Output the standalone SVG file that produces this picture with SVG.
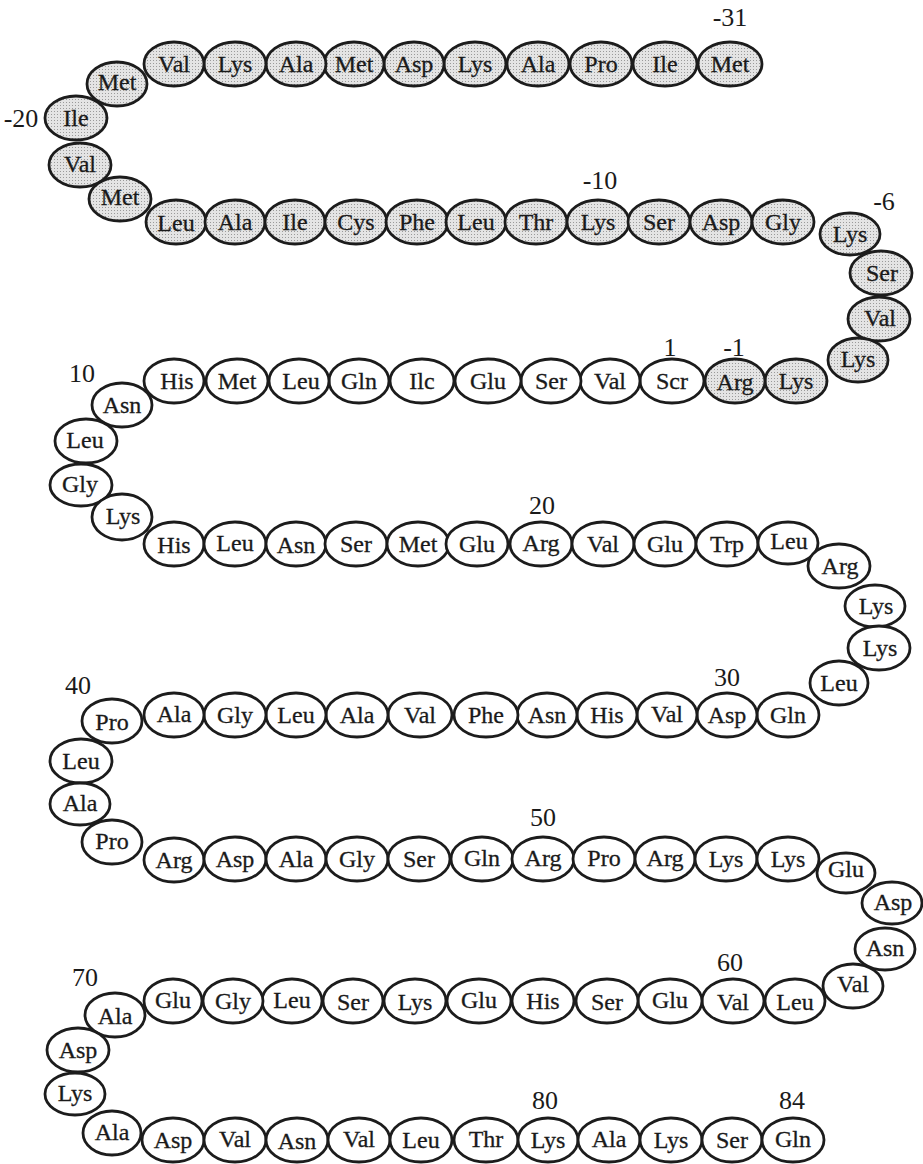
<svg xmlns="http://www.w3.org/2000/svg" width="923" height="1164" viewBox="0 0 923 1164">
<defs>
<pattern id="stip" width="3" height="3" patternUnits="userSpaceOnUse">
<rect width="3" height="3" fill="#e4e4e4"/>
<rect x="0" y="0" width="1" height="1" fill="#9a9a9a"/>
</pattern>
</defs>
<style>
.aa ellipse{fill:#ffffff;stroke:#1c1c1c;stroke-width:2.8}
.aa.sig ellipse{fill:url(#stip)}
.aa text{font-family:"Liberation Serif","Times New Roman",serif;font-size:24px;fill:#1a1a1a;stroke:#1a1a1a;stroke-width:0.3;text-anchor:middle;dominant-baseline:central}
.num{font-family:"Liberation Serif","Times New Roman",serif;font-size:26px;fill:#1a1a1a;text-anchor:middle;dominant-baseline:central}
</style>
<rect width="923" height="1164" fill="#ffffff"/>
<g id="connectors"></g>
<g id="residues">
<!-- Row 1 (signal) -->
<g id="n-31" class="aa sig"><ellipse cx="730" cy="64" rx="32" ry="22"/><text x="730" y="64">Met</text></g>
<g id="n-30" class="aa sig"><ellipse cx="665" cy="64" rx="32" ry="22"/><text x="665" y="64">Ile</text></g>
<g id="n-29" class="aa sig"><ellipse cx="601" cy="64" rx="31" ry="22"/><text x="601" y="64">Pro</text></g>
<g id="n-28" class="aa sig"><ellipse cx="538" cy="64" rx="31" ry="22"/><text x="538" y="64">Ala</text></g>
<g id="n-27" class="aa sig"><ellipse cx="475" cy="64" rx="31" ry="22"/><text x="475" y="64">Lys</text></g>
<g id="n-26" class="aa sig"><ellipse cx="414" cy="64" rx="30" ry="22"/><text x="414" y="64">Asp</text></g>
<g id="n-25" class="aa sig"><ellipse cx="354" cy="64" rx="30" ry="22"/><text x="354" y="64">Met</text></g>
<g id="n-24" class="aa sig"><ellipse cx="296" cy="64" rx="30" ry="22"/><text x="296" y="64">Ala</text></g>
<g id="n-23" class="aa sig"><ellipse cx="235" cy="64" rx="31" ry="22"/><text x="235" y="64">Lys</text></g>
<g id="n-22" class="aa sig"><ellipse cx="174" cy="64" rx="30" ry="22"/><text x="174" y="64">Val</text></g>
<g id="n-21" class="aa sig"><ellipse cx="117" cy="84" rx="30" ry="22"/><text x="117" y="82">Met</text></g>
<g id="n-20" class="aa sig"><ellipse cx="76" cy="118" rx="31" ry="22"/><text x="76" y="118">Ile</text></g>
<g id="n-19" class="aa sig"><ellipse cx="80" cy="165" rx="31" ry="22"/><text x="80" y="164">Val</text></g>
<g id="n-18" class="aa sig"><ellipse cx="120" cy="199" rx="31" ry="22"/><text x="120" y="197">Met</text></g>
<!-- Row 2 (signal) -->
<g id="n-17" class="aa sig"><ellipse cx="176" cy="222" rx="30" ry="22"/><text x="176" y="223">Leu</text></g>
<g id="n-16" class="aa sig"><ellipse cx="235" cy="222" rx="30" ry="22"/><text x="235" y="222">Ala</text></g>
<g id="n-15" class="aa sig"><ellipse cx="295" cy="222" rx="30" ry="22"/><text x="295" y="222">Ile</text></g>
<g id="n-14" class="aa sig"><ellipse cx="356" cy="222" rx="31" ry="22"/><text x="356" y="222">Cys</text></g>
<g id="n-13" class="aa sig"><ellipse cx="417" cy="222" rx="31" ry="22"/><text x="417" y="222">Phe</text></g>
<g id="n-12" class="aa sig"><ellipse cx="476" cy="222" rx="30" ry="22"/><text x="476" y="222">Leu</text></g>
<g id="n-11" class="aa sig"><ellipse cx="536" cy="222" rx="31" ry="22"/><text x="536" y="222">Thr</text></g>
<g id="n-10" class="aa sig"><ellipse cx="598" cy="222" rx="31" ry="22"/><text x="598" y="222">Lys</text></g>
<g id="n-9" class="aa sig"><ellipse cx="659" cy="222" rx="31" ry="22"/><text x="659" y="222">Ser</text></g>
<g id="n-8" class="aa sig"><ellipse cx="721" cy="222" rx="31" ry="22"/><text x="721" y="222">Asp</text></g>
<g id="n-7" class="aa sig"><ellipse cx="783" cy="222" rx="31" ry="22"/><text x="783" y="222">Gly</text></g>
<g id="n-6" class="aa sig"><ellipse cx="850" cy="234" rx="30" ry="21"/><text x="850" y="234">Lys</text></g>
<g id="n-5" class="aa sig"><ellipse cx="881" cy="273" rx="31" ry="22"/><text x="882" y="273">Ser</text></g>
<g id="n-4" class="aa sig"><ellipse cx="879" cy="319" rx="31" ry="22"/><text x="880" y="318">Val</text></g>
<g id="n-3" class="aa sig"><ellipse cx="858" cy="360" rx="30" ry="22"/><text x="858" y="359">Lys</text></g>
<!-- Row 3 -->
<g id="n-2" class="aa sig"><ellipse cx="796" cy="381" rx="31" ry="22"/><text x="796" y="381">Lys</text></g>
<g id="n-1" class="aa sig"><ellipse cx="735" cy="381" rx="30" ry="22"/><text x="735" y="382">Arg</text></g>
<g id="n1" class="aa"><ellipse cx="672" cy="381" rx="32" ry="22"/><text x="672" y="381">Scr</text></g>
<g id="n2" class="aa"><ellipse cx="610" cy="381" rx="30" ry="22"/><text x="610" y="381">Val</text></g>
<g id="n3" class="aa"><ellipse cx="551" cy="381" rx="30" ry="22"/><text x="551" y="381">Ser</text></g>
<g id="n4" class="aa"><ellipse cx="488" cy="381" rx="33" ry="22"/><text x="488" y="381">Glu</text></g>
<g id="n5" class="aa"><ellipse cx="422" cy="381" rx="32" ry="22"/><text x="422" y="381">Ilc</text></g>
<g id="n6" class="aa"><ellipse cx="359" cy="381" rx="30" ry="22"/><text x="359" y="381">Gln</text></g>
<g id="n7" class="aa"><ellipse cx="299" cy="381" rx="30" ry="22"/><text x="301" y="381">Leu</text></g>
<g id="n8" class="aa"><ellipse cx="237" cy="381" rx="31" ry="22"/><text x="237" y="381">Met</text></g>
<g id="n9" class="aa"><ellipse cx="174" cy="381" rx="30" ry="22"/><text x="177" y="381">His</text></g>
<g id="n10" class="aa"><ellipse cx="122" cy="405" rx="30" ry="22"/><text x="122" y="405">Asn</text></g>
<g id="n11" class="aa"><ellipse cx="86" cy="441" rx="31" ry="22"/><text x="85" y="440">Leu</text></g>
<g id="n12" class="aa"><ellipse cx="81" cy="485" rx="31" ry="21"/><text x="80" y="484">Gly</text></g>
<g id="n13" class="aa"><ellipse cx="122" cy="517" rx="30" ry="23"/><text x="123" y="516">Lys</text></g>
<!-- Row 4 -->
<g id="n14" class="aa"><ellipse cx="174" cy="544" rx="30" ry="22"/><text x="174" y="545">His</text></g>
<g id="n15" class="aa"><ellipse cx="235" cy="544" rx="31" ry="22"/><text x="235" y="543">Leu</text></g>
<g id="n16" class="aa"><ellipse cx="296" cy="544" rx="30" ry="22"/><text x="296" y="545">Asn</text></g>
<g id="n17" class="aa"><ellipse cx="356" cy="544" rx="31" ry="22"/><text x="356" y="544">Ser</text></g>
<g id="n18" class="aa"><ellipse cx="418" cy="544" rx="31" ry="22"/><text x="418" y="544">Met</text></g>
<g id="n19" class="aa"><ellipse cx="477" cy="544" rx="31" ry="22"/><text x="477" y="544">Glu</text></g>
<g id="n20" class="aa"><ellipse cx="541" cy="544" rx="31" ry="22"/><text x="541" y="543">Arg</text></g>
<g id="n21" class="aa"><ellipse cx="603" cy="544" rx="31" ry="22"/><text x="603" y="544">Val</text></g>
<g id="n22" class="aa"><ellipse cx="665" cy="544" rx="31" ry="22"/><text x="665" y="544">Glu</text></g>
<g id="n23" class="aa"><ellipse cx="727" cy="544" rx="31" ry="22"/><text x="727" y="544">Trp</text></g>
<g id="n24" class="aa"><ellipse cx="788" cy="543" rx="30" ry="21"/><text x="789" y="541">Leu</text></g>
<g id="n25" class="aa"><ellipse cx="839" cy="566" rx="31" ry="22"/><text x="840" y="566">Arg</text></g>
<g id="n26" class="aa"><ellipse cx="875" cy="606" rx="30" ry="21"/><text x="876" y="606">Lys</text></g>
<g id="n27" class="aa"><ellipse cx="879" cy="648" rx="31" ry="22"/><text x="880" y="648">Lys</text></g>
<g id="n28" class="aa"><ellipse cx="839" cy="683" rx="29" ry="22"/><text x="839" y="683">Leu</text></g>
<!-- Row 5 -->
<g id="n29" class="aa"><ellipse cx="788" cy="715" rx="31" ry="22"/><text x="788" y="715">Gln</text></g>
<g id="n30" class="aa"><ellipse cx="727" cy="715" rx="30" ry="22"/><text x="727" y="715">Asp</text></g>
<g id="n31" class="aa"><ellipse cx="667" cy="715" rx="30" ry="22"/><text x="667" y="714">Val</text></g>
<g id="n32" class="aa"><ellipse cx="607" cy="715" rx="30" ry="22"/><text x="607" y="715">His</text></g>
<g id="n33" class="aa"><ellipse cx="547" cy="715" rx="30" ry="22"/><text x="547" y="715">Asn</text></g>
<g id="n34" class="aa"><ellipse cx="486" cy="715" rx="32" ry="22"/><text x="486" y="715">Phe</text></g>
<g id="n35" class="aa"><ellipse cx="420" cy="715" rx="32" ry="22"/><text x="420" y="715">Val</text></g>
<g id="n36" class="aa"><ellipse cx="357" cy="715" rx="31" ry="22"/><text x="357" y="715">Ala</text></g>
<g id="n37" class="aa"><ellipse cx="296" cy="715" rx="30" ry="22"/><text x="296" y="715">Leu</text></g>
<g id="n38" class="aa"><ellipse cx="235" cy="715" rx="31" ry="22"/><text x="235" y="715">Gly</text></g>
<g id="n39" class="aa"><ellipse cx="174" cy="715" rx="30" ry="22"/><text x="174" y="714">Ala</text></g>
<g id="n40" class="aa"><ellipse cx="112" cy="721" rx="30" ry="22"/><text x="112" y="722">Pro</text></g>
<g id="n41" class="aa"><ellipse cx="81" cy="761" rx="31" ry="22"/><text x="81" y="761">Leu</text></g>
<g id="n42" class="aa"><ellipse cx="80" cy="804" rx="30" ry="21"/><text x="80" y="803">Ala</text></g>
<g id="n43" class="aa"><ellipse cx="112" cy="842" rx="30" ry="22"/><text x="112" y="841">Pro</text></g>
<!-- Row 6 -->
<g id="n44" class="aa"><ellipse cx="174" cy="860" rx="30" ry="22"/><text x="174" y="860">Arg</text></g>
<g id="n45" class="aa"><ellipse cx="235" cy="859" rx="31" ry="22"/><text x="235" y="859">Asp</text></g>
<g id="n46" class="aa"><ellipse cx="296" cy="859" rx="30" ry="22"/><text x="296" y="859">Ala</text></g>
<g id="n47" class="aa"><ellipse cx="357" cy="859" rx="31" ry="22"/><text x="357" y="859">Gly</text></g>
<g id="n48" class="aa"><ellipse cx="419" cy="859" rx="31" ry="22"/><text x="419" y="859">Ser</text></g>
<g id="n49" class="aa"><ellipse cx="482" cy="859" rx="31" ry="22"/><text x="482" y="858">Gln</text></g>
<g id="n50" class="aa"><ellipse cx="543" cy="859" rx="31" ry="22"/><text x="543" y="858">Arg</text></g>
<g id="n51" class="aa"><ellipse cx="604" cy="859" rx="31" ry="22"/><text x="604" y="858">Pro</text></g>
<g id="n52" class="aa"><ellipse cx="665" cy="859" rx="30" ry="22"/><text x="665" y="858">Arg</text></g>
<g id="n53" class="aa"><ellipse cx="726" cy="859" rx="31" ry="22"/><text x="726" y="859">Lys</text></g>
<g id="n54" class="aa"><ellipse cx="788" cy="859" rx="31" ry="22"/><text x="788" y="859">Lys</text></g>
<g id="n55" class="aa"><ellipse cx="846" cy="873" rx="29" ry="20"/><text x="846" y="869">Glu</text></g>
<g id="n56" class="aa"><ellipse cx="892" cy="903" rx="30" ry="21"/><text x="893" y="902">Asp</text></g>
<g id="n57" class="aa"><ellipse cx="885" cy="949" rx="30" ry="21"/><text x="885" y="948">Asn</text></g>
<g id="n58" class="aa"><ellipse cx="853" cy="986" rx="30" ry="22"/><text x="853" y="984">Val</text></g>
<!-- Row 7 -->
<g id="n59" class="aa"><ellipse cx="795" cy="1001" rx="30" ry="22"/><text x="795" y="1002">Leu</text></g>
<g id="n60" class="aa"><ellipse cx="733" cy="1001" rx="31" ry="22"/><text x="733" y="1002">Val</text></g>
<g id="n61" class="aa"><ellipse cx="670" cy="1001" rx="32" ry="22"/><text x="670" y="1000">Glu</text></g>
<g id="n62" class="aa"><ellipse cx="607" cy="1001" rx="31" ry="22"/><text x="607" y="1002">Ser</text></g>
<g id="n63" class="aa"><ellipse cx="543" cy="1001" rx="31" ry="22"/><text x="543" y="1001">His</text></g>
<g id="n64" class="aa"><ellipse cx="479" cy="1001" rx="32" ry="22"/><text x="479" y="1000">Glu</text></g>
<g id="n65" class="aa"><ellipse cx="415" cy="1001" rx="31" ry="22"/><text x="415" y="1002">Lys</text></g>
<g id="n66" class="aa"><ellipse cx="353" cy="1001" rx="30" ry="22"/><text x="353" y="1002">Ser</text></g>
<g id="n67" class="aa"><ellipse cx="292" cy="1001" rx="30" ry="22"/><text x="292" y="1000">Leu</text></g>
<g id="n68" class="aa"><ellipse cx="233" cy="1001" rx="30" ry="22"/><text x="233" y="1001">Gly</text></g>
<g id="n69" class="aa"><ellipse cx="173" cy="1001" rx="29" ry="22"/><text x="173" y="1000">Glu</text></g>
<g id="n70" class="aa"><ellipse cx="115" cy="1015" rx="30" ry="22"/><text x="115" y="1016">Ala</text></g>
<g id="n71" class="aa"><ellipse cx="78" cy="1050" rx="31" ry="22"/><text x="78" y="1050">Asp</text></g>
<g id="n72" class="aa"><ellipse cx="75" cy="1094" rx="30" ry="21"/><text x="75" y="1093">Lys</text></g>
<!-- Row 8 -->
<g id="n73" class="aa"><ellipse cx="112" cy="1133" rx="29" ry="22"/><text x="112" y="1132">Ala</text></g>
<g id="n74" class="aa"><ellipse cx="173" cy="1140" rx="31" ry="22"/><text x="173" y="1140">Asp</text></g>
<g id="n75" class="aa"><ellipse cx="235" cy="1140" rx="31" ry="22"/><text x="235" y="1139">Val</text></g>
<g id="n76" class="aa"><ellipse cx="297" cy="1140" rx="31" ry="22"/><text x="297" y="1141">Asn</text></g>
<g id="n77" class="aa"><ellipse cx="359" cy="1140" rx="31" ry="22"/><text x="359" y="1139">Val</text></g>
<g id="n78" class="aa"><ellipse cx="421" cy="1140" rx="31" ry="22"/><text x="421" y="1140">Leu</text></g>
<g id="n79" class="aa"><ellipse cx="486" cy="1140" rx="32" ry="22"/><text x="486" y="1139">Thr</text></g>
<g id="n80" class="aa"><ellipse cx="548" cy="1140" rx="30" ry="22"/><text x="548" y="1140">Lys</text></g>
<g id="n81" class="aa"><ellipse cx="609" cy="1140" rx="31" ry="22"/><text x="609" y="1139">Ala</text></g>
<g id="n82" class="aa"><ellipse cx="671" cy="1140" rx="31" ry="22"/><text x="671" y="1140">Lys</text></g>
<g id="n83" class="aa"><ellipse cx="732" cy="1140" rx="30" ry="22"/><text x="732" y="1140">Ser</text></g>
<g id="n84" class="aa"><ellipse cx="793" cy="1140" rx="31" ry="22"/><text x="793" y="1139">Gln</text></g>
</g>
<g id="numbers">
<text class="num" x="730" y="17">-31</text>
<text class="num" x="21" y="118">-20</text>
<text class="num" x="600" y="180">-10</text>
<text class="num" x="884" y="201">-6</text>
<text class="num" x="670" y="347">1</text>
<text class="num" x="734" y="347">-1</text>
<text class="num" x="82" y="373">10</text>
<text class="num" x="542" y="505">20</text>
<text class="num" x="727" y="677">30</text>
<text class="num" x="78" y="685">40</text>
<text class="num" x="543" y="817">50</text>
<text class="num" x="730" y="962">60</text>
<text class="num" x="85" y="977">70</text>
<text class="num" x="545" y="1100">80</text>
<text class="num" x="792" y="1100">84</text>
</g>
</svg>
